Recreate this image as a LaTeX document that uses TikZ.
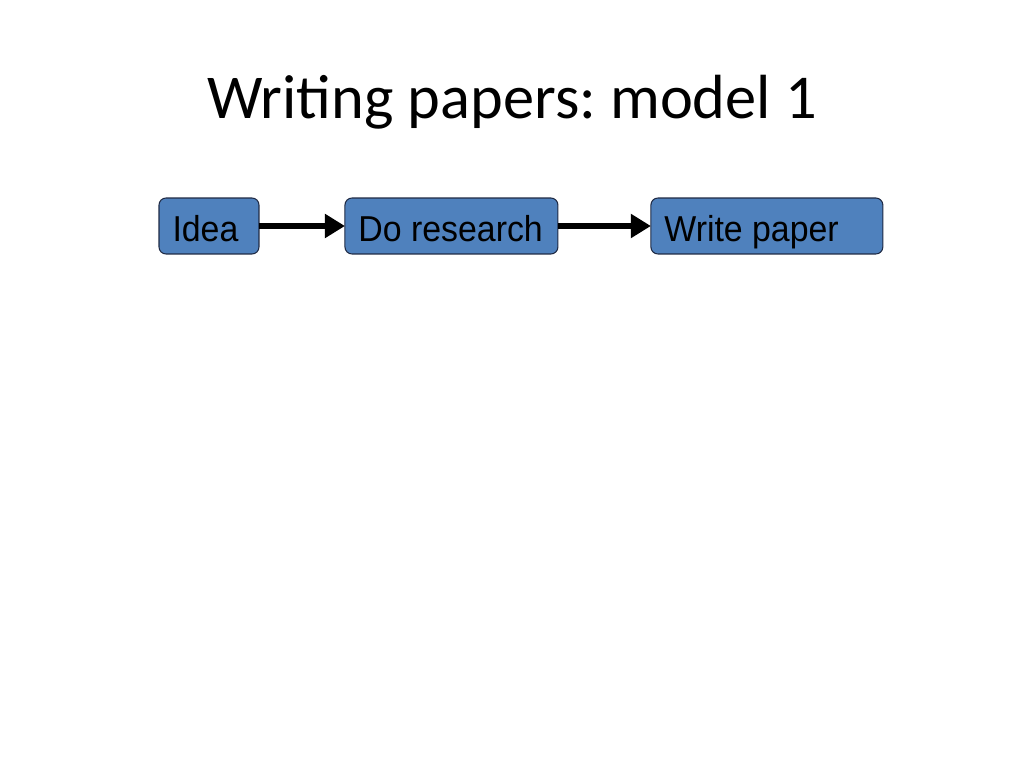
\documentclass[tikz,border=0pt]{standalone}
\usepackage{fontspec}
\setmainfont{Liberation Sans}[FakeStretch=0.94]
\newfontfamily\titlefont{Carlito}
\usetikzlibrary{positioning}
\usetikzlibrary{arrows.meta}
\definecolor{boxblue}{HTML}{4F81BD}
\definecolor{boxline}{HTML}{1F2A44}
\begin{document}
\begin{tikzpicture}[x=0.02cm,y=0.02cm,base/.style={draw=boxline,fill=boxblue,rounded corners=4pt,line width=0.6pt,minimum height=1.12cm,text height=0.64cm,text depth=0cm,inner xsep=0.27cm,inner ysep=0pt,outer sep=0pt,align=flush left,font=\fontsize{20.5}{22}\selectfont},freccia/.style={line width=3.6pt,-{Triangle[length=0.4cm,width=0.46cm]}}]
    \useasboundingbox (0,0) rectangle (1024,768);
    \node[font=\titlefont\fontsize{35.5}{42}\selectfont\frenchspacing](titolo) at (512,666){Writing papers: model 1};
    %
    \node[base,text width=1.46cm,anchor=west](a) at (159,542){Idea};
    \node[base,text width=3.72cm,right=1.72cm of a](b){Do research};
    \node[base,text width=4.1cm,right=1.86cm of b](c){Write paper};
    %
    \draw[freccia] (a) -- (b);
    \draw[freccia] (b) -- (c);
    %
\end{tikzpicture}
\end{document}
